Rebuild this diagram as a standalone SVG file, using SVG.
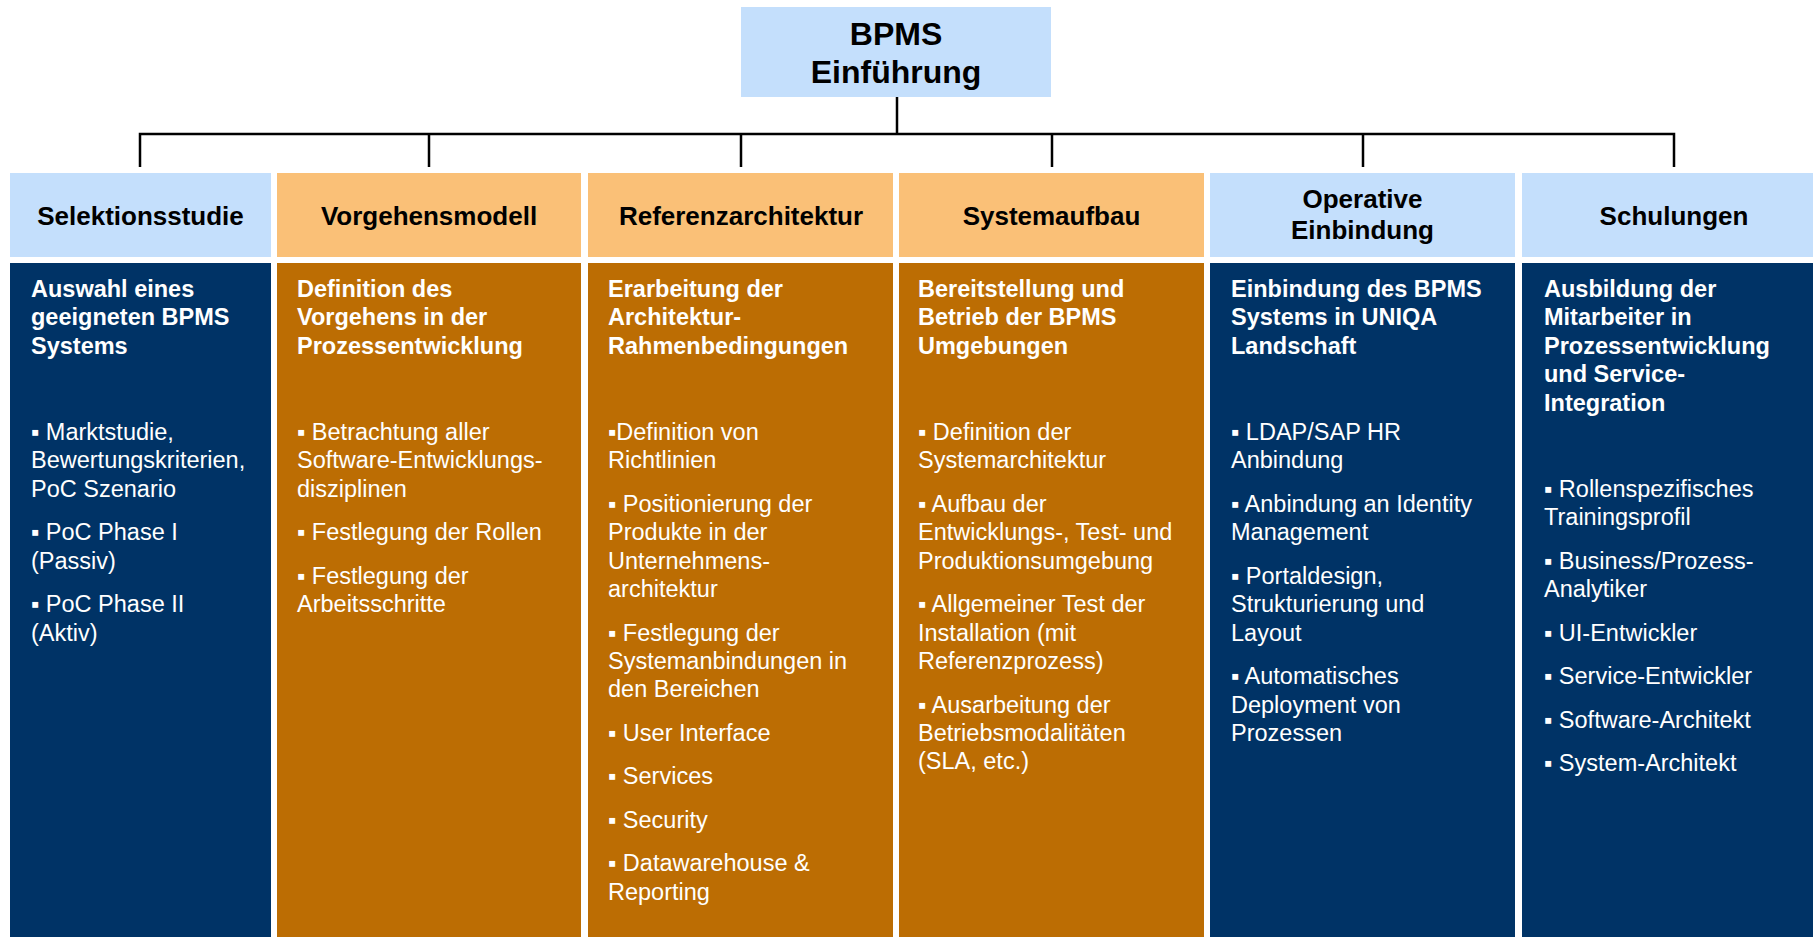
<svg xmlns="http://www.w3.org/2000/svg" width="1813" height="937" viewBox="0 0 1813 937">
<style>
.lb{fill:#C4DFFC}
.lo{fill:#FAC077}
.db{fill:#003366}
.do{fill:#BC6D03}
.hd{font-family:"Liberation Sans",Arial,sans-serif;font-weight:bold;font-size:26px;fill:#000;text-anchor:middle}
.top{font-family:"Liberation Sans",Arial,sans-serif;font-weight:bold;font-size:32px;fill:#000;text-anchor:middle}
.tt{font-family:"Liberation Sans",Arial,sans-serif;font-weight:bold;font-size:23.5px;fill:#fff}
.bt{font-family:"Liberation Sans",Arial,sans-serif;font-size:23.5px;fill:#fff}
.ln{stroke:#000;fill:none;stroke-width:2.5}
</style>
<rect width="1813" height="937" fill="#fff"/>
<g id="connectors">
<line class="ln" x1="897" y1="97" x2="897" y2="134" stroke-width="3"/>
<polyline class="ln" points="140,167 140,134 1674,134 1674,167"/>
<line class="ln" x1="429" y1="134" x2="429" y2="167"/>
<line class="ln" x1="741" y1="134" x2="741" y2="167"/>
<line class="ln" x1="1052" y1="134" x2="1052" y2="167"/>
<line class="ln" x1="1363" y1="134" x2="1363" y2="167"/>
</g>
<g id="root">
<rect class="lb" x="741" y="7" width="310" height="90"/>
<text class="top" x="896" y="45">BPMS</text>
<text class="top" x="896" y="83">Einführung</text>
</g>
<g id="col1">
<rect class="lb" x="10" y="173" width="261" height="84"/>
<text class="hd" x="140.5" y="225">Selektionsstudie</text>
<rect class="db" x="10" y="263" width="261" height="674"/>
<text class="tt" x="31" y="297">Auswahl eines</text>
<text class="tt" x="31" y="325.4">geeigneten BPMS</text>
<text class="tt" x="31" y="353.8">Systems</text>
<text class="bt" x="31" y="440">▪ Marktstudie,</text>
<text class="bt" x="31" y="468.4">Bewertungskriterien,</text>
<text class="bt" x="31" y="496.8">PoC Szenario</text>
<text class="bt" x="31" y="540.3">▪ PoC Phase I</text>
<text class="bt" x="31" y="568.7">(Passiv)</text>
<text class="bt" x="31" y="612.2">▪ PoC Phase II</text>
<text class="bt" x="31" y="640.6">(Aktiv)</text>
</g>
<g id="col2">
<rect class="lo" x="277" y="173" width="304" height="84"/>
<text class="hd" x="429" y="225">Vorgehensmodell</text>
<rect class="do" x="277" y="263" width="304" height="674"/>
<text class="tt" x="297" y="297">Definition des</text>
<text class="tt" x="297" y="325.4">Vorgehens in der</text>
<text class="tt" x="297" y="353.8">Prozessentwicklung</text>
<text class="bt" x="297" y="440">▪ Betrachtung aller</text>
<text class="bt" x="297" y="468.4">Software-Entwicklungs-</text>
<text class="bt" x="297" y="496.8">disziplinen</text>
<text class="bt" x="297" y="540.3">▪ Festlegung der Rollen</text>
<text class="bt" x="297" y="583.8">▪ Festlegung der</text>
<text class="bt" x="297" y="612.2">Arbeitsschritte</text>
</g>
<g id="col3">
<rect class="lo" x="588" y="173" width="305" height="84"/>
<text class="hd" x="741" y="225">Referenzarchitektur</text>
<rect class="do" x="588" y="263" width="305" height="674"/>
<text class="tt" x="608" y="297">Erarbeitung der</text>
<text class="tt" x="608" y="325.4">Architektur-</text>
<text class="tt" x="608" y="353.8">Rahmenbedingungen</text>
<text class="bt" x="608" y="440">▪Definition von</text>
<text class="bt" x="608" y="468.4">Richtlinien</text>
<text class="bt" x="608" y="511.9">▪ Positionierung der</text>
<text class="bt" x="608" y="540.3">Produkte in der</text>
<text class="bt" x="608" y="568.7">Unternehmens-</text>
<text class="bt" x="608" y="597.1">architektur</text>
<text class="bt" x="608" y="640.6">▪ Festlegung der</text>
<text class="bt" x="608" y="669">Systemanbindungen in</text>
<text class="bt" x="608" y="697.4">den Bereichen</text>
<text class="bt" x="608" y="740.9">▪ User Interface</text>
<text class="bt" x="608" y="784.4">▪ Services</text>
<text class="bt" x="608" y="827.9">▪ Security</text>
<text class="bt" x="608" y="871.4">▪ Datawarehouse &amp;</text>
<text class="bt" x="608" y="899.8">Reporting</text>
</g>
<g id="col4">
<rect class="lo" x="899" y="173" width="305" height="84"/>
<text class="hd" x="1051.5" y="225">Systemaufbau</text>
<rect class="do" x="899" y="263" width="305" height="674"/>
<text class="tt" x="918" y="297">Bereitstellung und</text>
<text class="tt" x="918" y="325.4">Betrieb der BPMS</text>
<text class="tt" x="918" y="353.8">Umgebungen</text>
<text class="bt" x="918" y="440">▪ Definition der</text>
<text class="bt" x="918" y="468.4">Systemarchitektur</text>
<text class="bt" x="918" y="511.9">▪ Aufbau der</text>
<text class="bt" x="918" y="540.3">Entwicklungs-, Test- und</text>
<text class="bt" x="918" y="568.7">Produktionsumgebung</text>
<text class="bt" x="918" y="612.2">▪ Allgemeiner Test der</text>
<text class="bt" x="918" y="640.6">Installation (mit</text>
<text class="bt" x="918" y="669">Referenzprozess)</text>
<text class="bt" x="918" y="712.5">▪ Ausarbeitung der</text>
<text class="bt" x="918" y="740.9">Betriebsmodalitäten</text>
<text class="bt" x="918" y="769.3">(SLA, etc.)</text>
</g>
<g id="col5">
<rect class="lb" x="1210" y="173" width="305" height="84"/>
<text class="hd" x="1362.5" y="208">Operative</text>
<text class="hd" x="1362.5" y="239">Einbindung</text>
<rect class="db" x="1210" y="263" width="305" height="674"/>
<text class="tt" x="1231" y="297">Einbindung des BPMS</text>
<text class="tt" x="1231" y="325.4">Systems in UNIQA</text>
<text class="tt" x="1231" y="353.8">Landschaft</text>
<text class="bt" x="1231" y="440">▪ LDAP/SAP HR</text>
<text class="bt" x="1231" y="468.4">Anbindung</text>
<text class="bt" x="1231" y="511.9">▪ Anbindung an Identity</text>
<text class="bt" x="1231" y="540.3">Management</text>
<text class="bt" x="1231" y="583.8">▪ Portaldesign,</text>
<text class="bt" x="1231" y="612.2">Strukturierung und</text>
<text class="bt" x="1231" y="640.6">Layout</text>
<text class="bt" x="1231" y="684.1">▪ Automatisches</text>
<text class="bt" x="1231" y="712.5">Deployment von</text>
<text class="bt" x="1231" y="740.9">Prozessen</text>
</g>
<g id="col6">
<rect class="lb" x="1522" y="173" width="291" height="84"/>
<text class="hd" x="1674" y="225">Schulungen</text>
<rect class="db" x="1522" y="263" width="291" height="674"/>
<text class="tt" x="1544" y="297">Ausbildung der</text>
<text class="tt" x="1544" y="325.4">Mitarbeiter in</text>
<text class="tt" x="1544" y="353.8">Prozessentwicklung</text>
<text class="tt" x="1544" y="382.2">und Service-</text>
<text class="tt" x="1544" y="410.6">Integration</text>
<text class="bt" x="1544" y="497">▪ Rollenspezifisches</text>
<text class="bt" x="1544" y="525.4">Trainingsprofil</text>
<text class="bt" x="1544" y="568.9">▪ Business/Prozess-</text>
<text class="bt" x="1544" y="597.3">Analytiker</text>
<text class="bt" x="1544" y="640.8">▪ UI-Entwickler</text>
<text class="bt" x="1544" y="684.3">▪ Service-Entwickler</text>
<text class="bt" x="1544" y="727.8">▪ Software-Architekt</text>
<text class="bt" x="1544" y="771.3">▪ System-Architekt</text>
</g>
</svg>
